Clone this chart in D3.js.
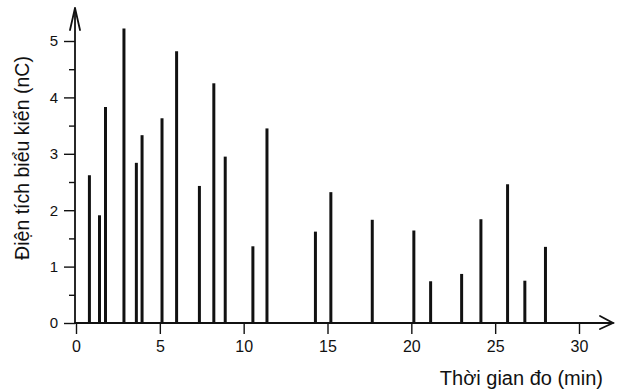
<!DOCTYPE html>
<html>
<head>
<meta charset="utf-8">
<script src="https://cdn.jsdelivr.net/npm/d3@7"></script>
<style>
  body { margin: 0; background: #fff; }
  svg text { font-family: "Liberation Sans", Arial, sans-serif; fill: #111; }
</style>
</head>
<body>
<div id="chart"></div>
<script>
// spike positions (min) and apparent charge (nC)
const times = [0.8, 1.4, 1.76, 2.86, 3.6, 3.94, 5.13, 6.0, 7.36, 8.22, 8.9, 10.55, 11.39,
    14.28, 15.2, 17.67, 20.15, 21.15, 23.0, 24.15, 25.74, 26.77, 28.0];
const charges = [2.62, 1.91, 3.83, 5.22, 2.84, 3.33, 3.63, 4.82, 2.43, 4.25, 2.95, 1.36, 3.45,
    1.62, 2.32, 1.83, 1.64, 0.74, 0.87, 1.84, 2.46, 0.75, 1.35];
const xTicks = [0, 5, 10, 15, 20, 25, 30];
const yTicks = [0, 1, 2, 3, 4, 5];
const yMinor = [0.5, 1.5, 2.5, 3.5, 4.5];
const xTitle = 'Thời gian đo (min)';
const yTitle = 'Điện tích biểu kiến (nC)';

const width = 617, height = 392;
const svg = d3.select('#chart').append('svg')
    .attr('width', width)
    .attr('height', height);

const xScale = d3.scaleLinear().domain([0, 30]).range([76, 579]);
const yScale = d3.scaleLinear().domain([0, 5]).range([323, 41]);
const x0 = xScale(0) - 1, y0 = yScale(0);

// y axis: major + minor ticks
const yAxis = svg.append('g')
    .attr('transform', `translate(${x0},0)`)
    .call(d3.axisLeft(yScale).tickValues(yTicks).tickSize(11).tickPadding(6).tickFormat(d3.format('d')));
yAxis.select('.domain').remove();
yAxis.selectAll('text').style('font-size', '15px');
yAxis.selectAll('line').attr('stroke', '#111').attr('stroke-width', 1.4);

const yAxisMinor = svg.append('g')
    .attr('transform', `translate(${x0},0)`)
    .call(d3.axisLeft(yScale).tickValues(yMinor).tickSize(6).tickFormat(''));
yAxisMinor.select('.domain').remove();
yAxisMinor.selectAll('line').attr('stroke', '#111').attr('stroke-width', 1.4);

// x axis
const xAxis = svg.append('g')
    .attr('transform', `translate(0,${y0})`)
    .call(d3.axisBottom(xScale).tickValues(xTicks).tickSize(11).tickPadding(7));
xAxis.select('.domain').remove();
xAxis.selectAll('text').style('font-size', '16px');
xAxis.selectAll('line').attr('stroke', '#111').attr('stroke-width', 1.4);

// axis lines with open arrows
const axisG = svg.append('g').attr('stroke', '#111').attr('fill', 'none')
    .attr('stroke-width', 1.8).attr('stroke-linecap', 'round');
axisG.append('line').attr('x1', x0).attr('y1', y0).attr('x2', x0).attr('y2', 8);
axisG.append('path').attr('d', `M${x0 - 5},${30} L${x0},8 L${x0 + 5},${30}`);
axisG.append('line').attr('x1', x0).attr('y1', y0).attr('x2', 613).attr('y2', y0);
axisG.append('path').attr('d', `M600,${y0 - 7} L613,${y0} L600,${y0 + 6}`);

// spikes
svg.append('g').selectAll('line.spike')
    .data(times)
    .enter()
    .append('line')
    .attr('class', 'spike')
    .attr('x1', d => xScale(d))
    .attr('x2', d => xScale(d))
    .attr('y1', y0)
    .attr('y2', (d, i) => yScale(charges[i]))
    .attr('stroke', '#111')
    .attr('stroke-width', 3);

// titles
svg.append('text')
    .attr('x', 603)
    .attr('y', 385)
    .attr('text-anchor', 'end')
    .style('font-size', '20px')
    .text(xTitle);

svg.append('text')
    .attr('transform', `translate(29,158) rotate(-90)`)
    .attr('text-anchor', 'middle')
    .style('font-size', '19.5px')
    .text(yTitle);
</script>
</body>
</html>
